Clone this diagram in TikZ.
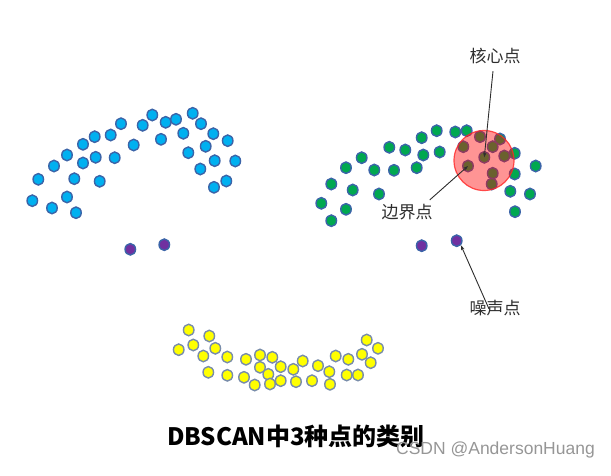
\documentclass[tikz,border=0pt]{standalone}
\usepackage{fontspec}
\newfontfamily\cjk{Noto Sans CJK SC}
\newfontfamily\wm{Liberation Sans}
\usetikzlibrary{shapes.geometric,arrows.meta}
\definecolor{dotline}{RGB}{59,100,168}
\definecolor{bluefill}{RGB}{0,176,240}
\definecolor{greenfill}{RGB}{0,168,80}
\definecolor{yelfill}{RGB}{255,255,0}
\definecolor{yelline}{RGB}{120,140,170}
\definecolor{purfill}{RGB}{112,48,160}
\definecolor{lbl}{RGB}{45,45,45}
\tikzset{
  dot/.style={ellipse,inner sep=0pt,minimum width=10.5pt,minimum height=11.5pt,line width=1.4pt,draw=dotline},
  bdot/.style={dot,fill=bluefill},
  gdot/.style={dot,fill=greenfill},
  ydot/.style={dot,fill=yelfill,draw=yelline},
  pdot/.style={dot,fill=purfill},
  lab/.style={font=\cjk\fontsize{17}{17}\selectfont,text=lbl,inner sep=1pt},
  arr/.style={draw=lbl,line width=0.9pt,-{Stealth[length=5pt,width=3.5pt]}},
}
\begin{document}
\begin{tikzpicture}[x=1pt,y=-1pt]
\useasboundingbox (0,0) rectangle (611,475);
% blue cluster
\foreach \p [count=\i] in {(152.3,115),(192.7,113.3),(165.7,122.3),(176,119.3),(201,123.7),(121,123.7),(142.7,125.3),(110.7,135),(94.7,136.7),(83,144.3),(133.7,145),(161,139.3),(183.3,133.3),(213.3,133.7),(227.7,140.7),(205.7,146.3),(188.3,152.7),(67,155),(95.7,157.3),(114.7,157.7),(83,163),(54,166),(214.7,160.7),(235.3,161),(200.3,169),(38.3,179.3),(74.3,178.7),(99.7,181.3),(226.3,181),(214,187.3),(32.3,200.7),(67,197),(52,208),(76,212.7)}
  \node[bdot] (b\i) at \p {};
\node[pdot] (p1) at (130.3,249.3) {};
\node[pdot] (p2) at (164.3,244.7) {};
% green cluster
\foreach \p [count=\i] in {(436.7,130.7),(455.3,132),(466.7,130.7),(421.7,137.7),(480,136.7),(500,139),(389.3,147.3),(405.3,150),(423.3,155),(439.7,152),(463.3,146.7),(492.7,146.7),(514.7,153.3),(504.3,156),(361.7,157.7),(346,167.7),(374.3,170),(394,170.3),(416.7,167.7),(535.7,166),(514.7,174),(492.7,173.3),(491.7,184),(331.3,184),(352.7,190),(379,194),(510.3,191.3),(530,194),(321.3,203.3),(346,209.3),(515,211.7),(331.3,220.7)}
  \node[gdot] (g\i) at \p {};
\node[gdot] (core) at (484.3,157.3) {};
\node[gdot] (border) at (468,166) {};
\node[pdot] (n1) at (421.7,245.7) {};
\node[pdot] (n2) at (456.7,240.7) {};
% eps circle
\node[circle,minimum size=60pt,inner sep=0pt,fill=red,fill opacity=0.42,draw=red!85,draw opacity=0.8,line width=1.2pt] (eps) at (484,160.5) {};
% yellow cluster
\foreach \p [count=\i] in {(188.7,330),(209.3,336),(178.7,349.7),(193.3,345),(203.3,356),(215.3,348.3),(227.3,357),(208.3,372.3),(227.3,375.3),(246,359.3),(260,355),(272.3,357.3),(260,367.3),(280.7,366.7),(268.3,374.3),(244,377.3),(254.7,385),(270,384),(280.7,380.7),(293.3,369.3),(302.7,361),(296,381.7),(312,380.7),(318,365.7),(329.3,371.7),(330,384.3),(335.7,356),(348.3,359.3),(362,354.3),(366.7,340),(378,348.3),(370.7,362.7),(346.7,375),(358,375)}
  \node[ydot] (y\i) at \p {};
% labels
\node[lab] (lcore) at (495,56) {核心点};
\node[lab] (lborder) at (407,212) {边界点};
\node[lab] (lnoise) at (495,308) {噪声点};
\draw[arr] ([xshift=-2pt,yshift=-6pt]lcore.south) -- (core.center);
\draw[arr] ([xshift=-4pt,yshift=3pt]lborder.north east) -- (border.center);
\draw[arr] ([xshift=-6pt,yshift=-10pt]lnoise.north) -- (n2.south east);
% title
\node[font=\cjk\bfseries\fontsize{24}{24}\selectfont,inner sep=0pt] (title) at (296,436) {DBSCAN中3种点的类别};
\node[font=\wm\fontsize{17.5}{17.5}\selectfont,text={rgb,255:red,150;green,150;blue,150},inner sep=0pt] (mark) at (495.5,450) {CSDN @AndersonHuang};
\end{tikzpicture}
\end{document}
